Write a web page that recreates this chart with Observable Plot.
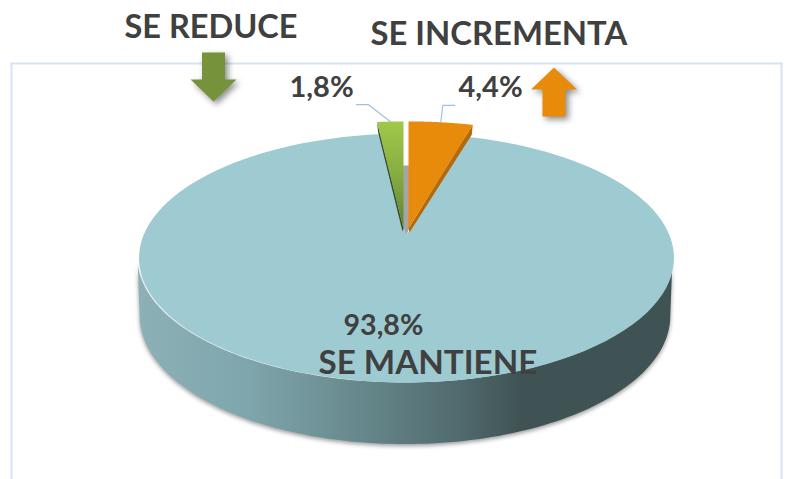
<!DOCTYPE html>
<html><head><meta charset="utf-8">
<script src="https://cdn.jsdelivr.net/npm/d3@7"></script>
<script src="https://cdn.jsdelivr.net/npm/@observablehq/plot@0.6"></script>
<style>html,body{margin:0;padding:0;background:#fff;overflow:hidden}svg{display:block}</style>
</head><body><div id="chart"></div>
<script>
// data
const categories = ["SE INCREMENTA", "SE MANTIENE", "SE REDUCE"];
const shares = [4.4, 93.8, 1.8];
const shareLabels = ["4,4%", "93,8%", "1,8%"];

// style
const W = 789, H = 479, mL = 11, mT = 63, mR = 8;
const ink = "#404040", teal = "#9ecbd2", orange = "#e88a0a", orangeSide = "#b4690c",
      greenSide = "#3c4e22", arrowGreen = "#76933c", rim = "#d5e3f5", leader = "#9cc2e8", wall = "#a5a5a5";
const font = "Lato, Carlito, sans-serif";

// pie geometry: a tilted disc seen in perspective
const persp = 0.181, K = 1 / Math.sqrt(1 - persp * persp);
const pxX = d => d / 267.5, pxY = d => d / 147;
const proj = (deg, r = 1, dx = 0, dy = 0) => {
  const a = deg * Math.PI / 180, u = r * Math.sin(a), v = r * Math.cos(a), w = 1 + persp * v;
  return {x: u / w / K + pxX(dx), y: v / w * (1 - persp) - pxY(dy)};
};
const deg = s => s / 100 * 360;
const arc = (a0, a1, r, dx, dy) => d3.range(0, 121).map(i => proj(a0 + (a1 - a0) * i / 120, r, dx, dy));

const aInc = deg(shares[0]), aDec = deg(shares[2]);
const tuck = 1.5; // the teal top slips slightly under the raised slices
const tealTop = [proj(0, 0, 1.5), ...arc(aInc - tuck, 360 - aDec + tuck, 1, 1.5)];
const tangent = Math.acos(-persp) * 180 / Math.PI;
const lower = a => {
  const v = Math.cos(a * Math.PI / 180), p = proj(a, 0.992);
  return {x: p.x, y: p.y - pxY(57 - 6 * v)};
};
const sideWall = [...arc(tangent, 360 - tangent, 1),
  ...d3.range(0, 121).map(i => lower(360 - tangent - (360 - 2 * tangent) * i / 120))];
const lift = -7, grow = 1.06;
const incTop = [proj(0, 0, 3.5, lift), ...arc(0, aInc, grow, 3.5, lift)];
const decTop = [proj(0, 0, -1.5, lift), ...arc(360 - aDec, 360, grow, -1.5, lift)];
const add = (p, dx, dy) => ({x: p.x + pxX(dx), y: p.y - pxY(dy)});
const incTip = proj(aInc, grow, 3.5, lift), decTip = proj(360 - aDec, grow, -1.5, lift);
const incApex = proj(0, 0, 3.5, lift), decApex = proj(0, 0, -1.5, lift);
const incSide = [incApex, incTip, add(incTip, -1, 10), add(incApex, 1, 4)];
const decSide = [decApex, decTip, add(decTip, 1, 10), add(decApex, -1, 3)];
const gap = [proj(0, 0, 1.5), add(proj(0, 0, 1.5), 3.5, -10), add(proj(0, 0.65, 1.5), 3.5, 0),
             add(proj(0, 0.65, 1.5), -3.5, 0), add(proj(0, 0, 1.5), -3.5, -10)];

// leaders start at each slice's mid-angle on the rim
const incRim = proj(aInc / 2, grow, 3.5, lift), decRim = proj(360 - aDec / 2, grow, -1.5, lift);
const incLead = [incRim, add(incRim, 2, -17), add(incRim, 14, -17)];
const decLead = [decRim, add(decRim, -22, -17), add(decRim, -34, -17)];

const poly = (pts, fill, extra = {}) => Plot.line(pts, {x: "x", y: "y", fill, stroke: "none", ...extra});
const txt = (s, left, top, size) => Plot.text([s], {
  text: d => d, frameAnchor: "top-left", textAnchor: "start", lineAnchor: "top",
  dx: left - mL, dy: top - mT, fontSize: size, fontWeight: 700, fontFamily: font, fill: ink
});
const arrow = up => ({draw(c, size) {
  const r = Math.sqrt(size / Math.PI) / 24, s = up ? 1 : -1;
  c.moveTo(0, -24.5 * s * r); c.lineTo(23 * r, -2.5 * s * r); c.lineTo(11.5 * r, -2.5 * s * r);
  c.lineTo(11.5 * r, 24.5 * s * r); c.lineTo(-11.5 * r, 24.5 * s * r); c.lineTo(-11.5 * r, -2.5 * s * r);
  c.lineTo(-23 * r, -2.5 * s * r); c.closePath();
}});
const arrowMark = (cx, cy, up, fill) => Plot.dot([0], {
  frameAnchor: "top-left", dx: cx - mL, dy: cy - mT, r: 24, symbol: arrow(up), fill, stroke: "none",
  imageFilter: "drop-shadow(3px 3px 3px rgba(0,0,0,.45))"
});

const chart = Plot.plot({
  width: W, height: H, marginLeft: mL, marginRight: mR, marginTop: mT, marginBottom: 0,
  style: {background: "#fff", overflow: "hidden"},
  x: {axis: null, domain: [-1, 1], range: [137, 672]},
  y: {axis: null, domain: [-1, 1], range: [382, 88]},
  marks: [
    Plot.frame({anchor: "left", stroke: rim, strokeWidth: 2}),
    Plot.frame({anchor: "top", stroke: rim, strokeWidth: 2}),
    Plot.frame({anchor: "right", stroke: rim, strokeWidth: 2}),
    poly(sideWall, "url(#sideGrad)", {imageFilter: "drop-shadow(0 2px 2px rgba(0,0,0,.4))"}),
    poly(tealTop, teal),
    poly(gap, wall),
    poly(incSide, orangeSide),
    poly(decSide, greenSide),
    poly(incTop, orange),
    poly(decTop, "url(#greenGrad)"),
    Plot.line(incLead, {x: "x", y: "y", stroke: leader, strokeWidth: 1.2}),
    Plot.line(decLead, {x: "x", y: "y", stroke: leader, strokeWidth: 1.2}),
    arrowMark(213, 76.5, false, arrowGreen),
    arrowMark(553.5, 91.5, true, orange),
    txt(categories[2], 124, 14, 32.5),
    txt(categories[0], 370, 21, 32.8),
    txt(categories[1], 318, 350, 33.2),
    txt(shareLabels[2], 289, 76, 29),
    txt(shareLabels[0], 458, 76, 29),
    txt(shareLabels[1], 343, 314, 28.6)
  ]
});

const defs = d3.select(chart).insert("defs", ":first-child");
const grad = (id, attrs, stops) => {
  const g = defs.append("linearGradient").attr("id", id).attr("gradientUnits", "userSpaceOnUse");
  Object.entries(attrs).forEach(([k, v]) => g.attr(k, v));
  stops.forEach(([o, c]) => g.append("stop").attr("offset", o).attr("stop-color", c));
};
grad("sideGrad", {x1: 140, x2: 672, y1: 0, y2: 0},
  [[0, "#8bb1b7"], [0.2, "#7fa6ac"], [0.4, "#688a8e"], [0.6, "#506a6d"], [0.72, "#3f5254"], [1, "#3f5254"]]);
grad("greenGrad", {x1: 0, x2: 0, y1: 120, y2: 228},
  [[0, "#a0c94b"], [0.5, "#86ad41"], [1, "#5f8233"]]);
document.getElementById("chart").append(chart);
</script></body></html>
